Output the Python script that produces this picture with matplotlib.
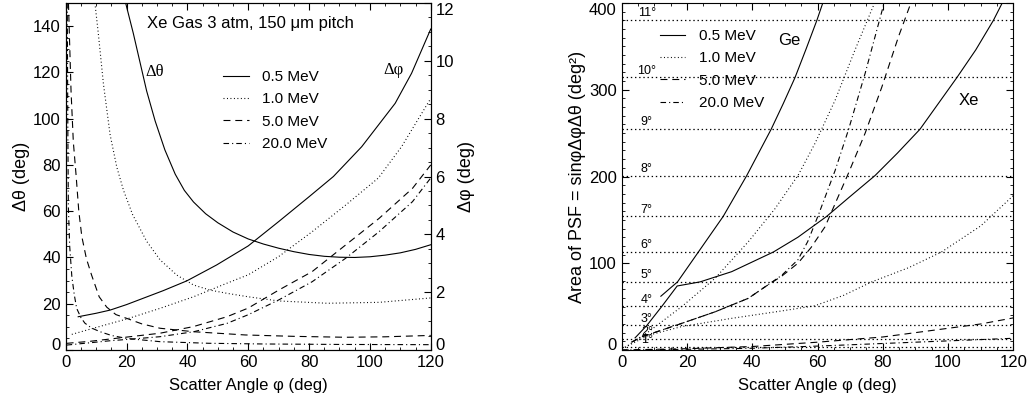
import numpy as np
import matplotlib
matplotlib.use("Agg")
import matplotlib.pyplot as plt
from matplotlib.ticker import MultipleLocator

plt.rcParams['font.family'] = ['Liberation Sans', 'DejaVu Sans']
plt.rcParams['lines.scale_dashes'] = False

# ---- left panel: delta theta (left axis) ----
th05_phi = [19.7, 22.2, 24.4, 26.6, 29.4, 32.6, 36, 39, 42, 46, 50, 55, 60, 65, 70, 75, 80, 85, 90, 95, 100, 105, 110, 115, 120]
th05 = [150, 137, 124.5, 112, 99, 86.5, 76, 69, 64, 58.9, 55, 51, 48, 45.8, 44, 42.5, 41.3, 40.5, 40.1, 40, 40.3, 41, 42, 43.5, 45.5]
th10_phi = [9.6, 10.7, 12.4, 14.6, 16.8, 19, 22, 26.6, 31, 36.5, 42, 47.4, 53, 60, 70, 86, 103, 120]
th10 = [150, 137, 115, 93, 79, 69, 58.5, 47, 39, 32.4, 28.1, 25.9, 24.5, 23, 21.2, 20.2, 20.6, 22.5]
th50_phi = [0.9, 1.75, 2.5, 3.4, 4.3, 5.3, 6.8, 8.5, 11, 13.5, 16.5, 20, 25, 31, 42, 59, 75, 92, 105, 120]
th50 = [150, 112, 90, 75.7, 60, 49, 39.5, 32.4, 23, 18.5, 15.3, 13.7, 11.3, 9.4, 7.9, 6.5, 5.9, 5.5, 5.7, 6.3]
th200_phi = [0.5, 0.7, 0.87, 1.3, 2, 2.8, 3.6, 5, 6.3, 8.5, 11.3, 15, 20, 31, 47, 65, 90, 120]
th200 = [150, 95, 62, 45, 32, 24, 18, 14, 11.6, 9.5, 7.9, 6.3, 5, 3.6, 2.9, 2.6, 2.4, 2.3]

# ---- left panel: delta phi (right axis) ----
ph05_phi = [4.1, 10, 14.6, 20, 25.5, 32, 39.8, 49.6, 60, 70, 80, 88, 97.3, 108.3, 113.7, 120]
ph05 = [1.15, 1.27, 1.38, 1.57, 1.79, 2.05, 2.39, 2.94, 3.6, 4.44, 5.3, 6.0, 7.03, 8.53, 9.57, 11.1]
ph10_phi = [2, 9, 20, 31, 42, 53, 60, 70, 81, 92, 102.8, 110.4, 120]
ph10 = [0.54, 0.75, 1.07, 1.44, 1.84, 2.31, 2.6, 3.23, 4.09, 5.01, 5.95, 7.03, 8.7]
ph_phi = [0.3, 8, 14.6, 22, 31, 42, 53, 60, 70, 81, 92, 103, 114, 120]
ph50 = [0.23, 0.3, 0.38, 0.47, 0.58, 0.81, 1.15, 1.45, 2.07, 2.71, 3.63, 4.55, 5.59, 6.4]
ph200 = [0.17, 0.25, 0.32, 0.38, 0.46, 0.63, 0.92, 1.22, 1.73, 2.36, 3.17, 4.09, 5.13, 5.95]

# ---- right panel: area of PSF ----
ge05_phi = [12, 17.1, 23.5, 31.1, 38.3, 45.8, 49.5, 53.1, 56.5, 59.8, 61.8]
ge05 = [62, 78.5, 113, 154, 201, 254.5, 284, 314, 347, 380, 402]
xe05_phi = [4.1, 7.7, 12.3, 17, 24, 33.7, 46.5, 54, 62.8, 70, 77.6, 84.5, 91.4, 102.7, 108.5, 113.9, 116.6]
xe05 = [14, 28.3, 50.3, 73.8, 78.5, 90.3, 113, 130, 154, 177, 201, 227, 254.5, 314, 346, 380, 400]
ge10_phi = [1, 8.2, 18.4, 28.6, 38.8, 47, 54.1, 59.2, 65.4, 71.5, 77.7]
ge10 = [3, 21, 50, 82.6, 124.8, 163, 201.7, 238, 288, 346, 402]
xe10_phi = [1, 8.2, 18.4, 33.7, 49, 59.2, 68, 76.6, 88, 98, 110, 120]
xe10 = [3, 17, 27, 36.5, 45, 51, 63, 78.5, 95, 113, 143, 178]
ge50_phi = [3, 6, 18.4, 28.6, 38.8, 44, 49, 54, 58, 62.3, 69.5, 74.6, 79.7, 84.8, 89]
ge50 = [9, 15, 30.7, 44, 59.6, 73, 85, 100, 118, 142, 204, 250, 303, 361, 404]
ge200_phi = [3, 6, 18.4, 28.6, 38.8, 44, 49, 54, 57, 60.2, 65.4, 69.5, 74.6, 80.7]
ge200 = [9, 15, 30.7, 44, 59.6, 73, 86, 104, 125, 155, 207, 254, 319, 404]
xe50_phi = [0, 20, 40, 60, 80, 90, 100, 110, 120]
xe50 = [0, 1.5, 4, 9, 15, 20, 25, 30, 37]
xe200_phi = [0, 20, 40, 60, 80, 100, 120]
xe200 = [0, 0.8, 2, 4.5, 7.5, 10.5, 13.5]

psf_radius = [1, 2, 3, 4, 5, 6, 7, 8, 9, 10, 11]
energies = ['0.5 MeV', '1.0 MeV', '5.0 MeV', '20.0 MeV']

styles = ['-', (0, (0.7, 1.8)), (0, (5, 3.5)), (0, (4, 2.2, 0.8, 2.2))]
lw = 0.8

fig = plt.figure(figsize=(10.3, 4.12), dpi=100)
ax1 = fig.add_axes([0.0638, 0.1505, 0.3544, 0.8422])
ax2 = ax1.twinx()
ax3 = fig.add_axes([0.6036, 0.1505, 0.3802, 0.8422])

th_x = [th05_phi, th10_phi, th50_phi, th200_phi]
th_y = [th05, th10, th50, th200]
for xs, ys, ls, lab in zip(th_x, th_y, styles, energies):
    ax1.plot(xs, ys, color='k', lw=lw, linestyle=ls, label=lab)

ph_x = [ph05_phi, ph10_phi, ph_phi, ph_phi]
ph_y = [ph05, ph10, ph50, ph200]
for xs, ys, ls in zip(ph_x, ph_y, styles):
    ax2.plot(xs, ys, color='k', lw=lw, linestyle=ls)

ax1.set_xlim(0, 120)
ax1.set_ylim(0, 150)
ax2.set_ylim(0, 12)
ax1.xaxis.set_major_locator(MultipleLocator(20))
ax1.xaxis.set_minor_locator(MultipleLocator(5))
ax1.yaxis.set_major_locator(MultipleLocator(20))
ax1.yaxis.set_minor_locator(MultipleLocator(5))
ax2.yaxis.set_major_locator(MultipleLocator(2))
ax2.yaxis.set_minor_locator(MultipleLocator(0.5))

ax1.set_xlabel('Scatter Angle \u03c6 (deg)', fontsize=12, labelpad=6)
ax1.set_ylabel('\u0394\u03b8 (deg)', fontsize=13, labelpad=2)
ax2.set_ylabel('\u0394\u03c6 (deg)', fontsize=13, labelpad=3)

ax1.text(26.8, 141.2, 'Xe Gas 3 atm, 150 \u03bcm pitch', fontsize=12, va='center', ha='left')
ax1.text(26.1, 120.3, '\u0394\u03b8', fontsize=12, va='center', ha='left', family='Liberation Serif')
ax1.text(104.4, 121, '\u0394\u03c6', fontsize=12, va='center', ha='left', family='Liberation Serif')
ax1.legend(loc='upper left', bbox_to_anchor=(0.432, 0.807), frameon=False, fontsize=11,
           handlelength=1.65, handletextpad=0.9, labelspacing=0.55, borderpad=0, borderaxespad=0)

# ---- right panel ----
for r in psf_radius:
    a = np.pi * r ** 2
    ax3.axhline(a, color='k', lw=0.9, linestyle=(0, (1, 2)))
    ax3.text(7.7, a + 1, f'{r}\u00b0', fontsize=9, ha='center', va='bottom')

ge_x = [ge05_phi, ge10_phi, ge50_phi, ge200_phi]
ge_y = [ge05, ge10, ge50, ge200]
xe_x = [xe05_phi, xe10_phi, xe50_phi, xe200_phi]
xe_y = [xe05, xe10, xe50, xe200]
for xs, ys, ls, lab in zip(ge_x, ge_y, styles, energies):
    ax3.plot(xs, ys, color='k', lw=lw, linestyle=ls, label=lab)
for xs, ys, ls in zip(xe_x, xe_y, styles):
    ax3.plot(xs, ys, color='k', lw=lw, linestyle=ls)

ax3.set_xlim(0, 120)
ax3.set_ylim(0, 400)
ax3.xaxis.set_major_locator(MultipleLocator(20))
ax3.xaxis.set_minor_locator(MultipleLocator(5))
ax3.yaxis.set_major_locator(MultipleLocator(100))
ax3.yaxis.set_minor_locator(MultipleLocator(10))
ax3.set_xlabel('Scatter Angle \u03c6 (deg)', fontsize=12, labelpad=6)
ax3.set_ylabel('Area of PSF = sin\u03c6\u0394\u03c6\u0394\u03b8 (deg\u00b2)', fontsize=13, labelpad=2)
ax3.text(48, 357, 'Ge', fontsize=12, ha='left', va='center')
ax3.text(103.2, 288, 'Xe', fontsize=12, ha='left', va='center')
ax3.legend(loc='upper left', bbox_to_anchor=(0.098, 0.925), frameon=False, fontsize=11,
           handlelength=1.65, handletextpad=0.9, labelspacing=0.55, borderpad=0, borderaxespad=0)

for ax in (ax1, ax3):
    ax.tick_params(which='both', direction='in', top=True, labelsize=12)
    ax.tick_params(which='major', length=5, width=0.8)
    ax.tick_params(which='minor', length=2.5, width=0.6)
ax1.tick_params(axis='y', which='both', right=False)
ax3.tick_params(axis='y', which='both', right=True)
ax2.tick_params(which='both', direction='in', labelsize=12)
ax2.tick_params(which='major', length=5, width=0.8)
ax2.tick_params(which='minor', length=2.5, width=0.6)
for ax in (ax1, ax2, ax3):
    for sp in ax.spines.values():
        sp.set_linewidth(0.8)

# end labels of the y axes sit inside the frame, as in the original
fig.canvas.draw()
for ax in (ax1, ax2, ax3):
    for lab in ax.get_yticklabels():
        if lab.get_text() == '0':
            lab.set_va('baseline')
        elif lab.get_text() in ('12', '400'):
            lab.set_va('top')

fig.savefig('out.png', dpi=100)
